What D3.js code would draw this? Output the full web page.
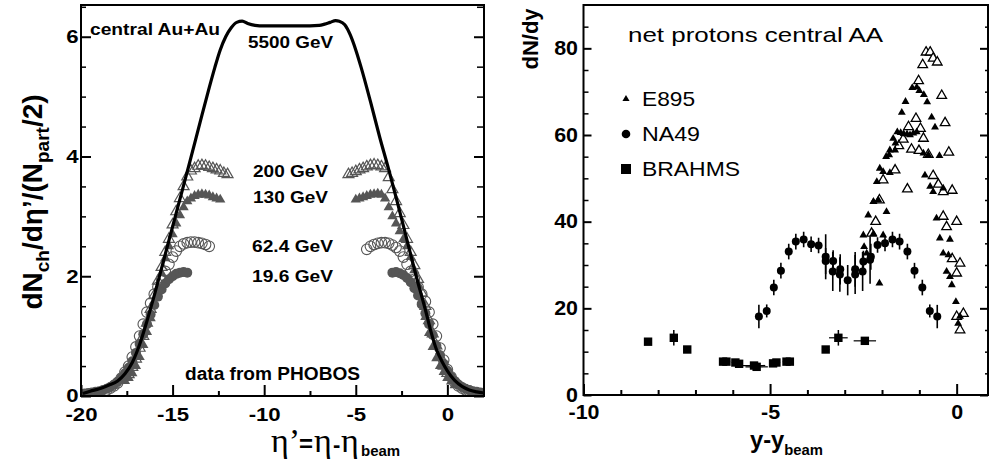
<!DOCTYPE html>
<html><head><meta charset="utf-8">
<script src="https://cdn.jsdelivr.net/npm/d3@7/dist/d3.min.js"></script>
<style>
html,body{margin:0;padding:0;background:#fff}
svg{display:block}
text{font-family:"Liberation Sans",Arial,Helvetica,sans-serif}
</style></head>
<body>
<svg id="chart" width="989" height="466"></svg>
<script>
// ================= LEFT PANEL DATA =================
// 5500 GeV extrapolation (solid curve)
const lhcEta = [-19.9,-19.5,-19.0,-18.5,-18.0,-17.6,-17.2,-16.8,-16.4,-16.0,-15.5,-15.0,-14.5,-14.0,-13.5,-13.0,-12.7,-12.4,-12.1,-11.8,-11.5,-11.2,-10.9,-10.5,-10.0,-9.0,-8.0,-7.0,-6.7,-6.4,-6.1,-5.9,-5.6,-5.3,-5.0,-4.7,-4.2,-3.7,-3.2,-2.7,-2.2,-1.7,-1.2,-0.9,-0.6,-0.3,0.0,0.4,0.8,1.2,1.6,2.0];
const lhcVal = [0.04,0.08,0.12,0.18,0.25,0.37,0.56,0.86,1.25,1.68,2.25,2.83,3.4,3.98,4.57,5.15,5.48,5.78,6.0,6.15,6.24,6.26,6.22,6.19,6.18,6.18,6.18,6.19,6.21,6.24,6.27,6.26,6.2,6.03,5.78,5.48,4.92,4.33,3.78,3.2,2.6,2.0,1.44,1.08,0.78,0.58,0.42,0.26,0.16,0.1,0.07,0.05];

// 200 GeV (open triangles)
const eta200 = [-17.4,-17.2,-17.0,-16.8,-16.6,-16.4,-16.2,-16.0,-15.8,-15.6,-15.4,-15.2,-15.0,-14.8,-14.6,-14.4,-14.2,-14.0,-13.8,-13.6,-13.4,-13.2,-13.0,-12.8,-12.6,-12.4,-12.2,-12.0,
  -5.4,-5.2,-5.0,-4.8,-4.6,-4.4,-4.2,-4.0,-3.8,-3.6,-3.4,-3.2,-3.0,-2.8,-2.6,-2.4,-2.2,-2.0,-1.8,-1.6,-1.4,-1.2,-1.0,-0.8,-0.6,-0.4,-0.2,0.0];
const val200 = [0.36,0.48,0.62,0.8,1.0,1.22,1.45,1.68,1.92,2.15,2.4,2.62,2.86,3.08,3.3,3.5,3.66,3.76,3.8,3.84,3.85,3.84,3.82,3.8,3.78,3.76,3.72,3.7,
  3.70,3.72,3.75,3.78,3.80,3.83,3.85,3.86,3.85,3.83,3.8,3.65,3.45,3.25,3.05,2.85,2.62,2.4,2.18,1.95,1.72,1.5,1.26,1.04,0.84,0.66,0.5,0.38];

// 130 GeV (filled triangles)
const eta130 = [-17.6,-17.4,-17.2,-17.0,-16.8,-16.6,-16.4,-16.2,-16.0,-15.8,-15.6,-15.4,-15.2,-15.0,-14.8,-14.6,-14.4,-14.2,-14.0,-13.8,-13.6,-13.4,-13.2,-13.0,-12.8,-12.6,-12.4,
  -5.0,-4.8,-4.6,-4.4,-4.2,-4.0,-3.8,-3.6,-3.4,-3.2,-3.0,-2.8,-2.6,-2.4,-2.2,-2.0,-1.8,-1.6,-1.4,-1.2,-1.0,-0.8,-0.6,-0.4,-0.2,0.0,0.2,0.4];
const val130 = [0.25,0.3,0.38,0.5,0.65,0.85,1.07,1.3,1.55,1.8,2.05,2.3,2.5,2.7,2.88,3.02,3.15,3.25,3.3,3.34,3.36,3.37,3.36,3.35,3.32,3.3,3.28,
  3.28,3.3,3.32,3.34,3.36,3.37,3.38,3.36,3.3,3.15,3.0,2.88,2.75,2.62,2.5,2.32,2.1,1.86,1.6,1.32,1.05,0.82,0.63,0.5,0.4,0.3,0.24,0.18];

// 62.4 GeV (open circles)
const eta62 = [-18.6,-18.4,-18.2,-18.0,-17.8,-17.6,-17.4,-17.2,-17.0,-16.8,-16.6,-16.4,-16.2,-16.0,-15.8,-15.6,-15.4,-15.2,-15.0,-14.8,-14.6,-14.4,-14.2,-14.0,-13.8,-13.6,-13.4,-13.2,-13.0,
  -4.4,-4.2,-4.0,-3.8,-3.6,-3.4,-3.2,-3.0,-2.8,-2.6,-2.4,-2.2,-2.0,-1.8,-1.6,-1.4,-1.2,-1.0,-0.8,-0.6,-0.4,-0.2,0.0,0.2,0.4,0.6,0.8,1.0,1.2];
const val62 = [0.1,0.13,0.17,0.22,0.3,0.4,0.5,0.65,0.82,1.0,1.2,1.4,1.55,1.7,1.82,1.95,2.08,2.2,2.32,2.42,2.5,2.54,2.56,2.57,2.57,2.56,2.55,2.53,2.5,
  2.45,2.5,2.53,2.55,2.56,2.56,2.55,2.52,2.48,2.42,2.32,2.2,2.08,1.95,1.82,1.7,1.58,1.4,1.2,1.0,0.8,0.6,0.44,0.32,0.23,0.17,0.13,0.1,0.08];

// 19.6 GeV (filled circles)
const eta19 = [-19.8,-19.6,-19.4,-19.2,-19.0,-18.8,-18.6,-18.4,-18.2,-18.0,-17.8,-17.6,-17.4,-17.2,-17.0,-16.8,-16.6,-16.4,-16.2,-16.0,-15.8,-15.6,-15.4,-15.2,-15.0,-14.8,-14.6,-14.4,-14.2,
  -3.0,-2.8,-2.6,-2.4,-2.2,-2.0,-1.8,-1.6,-1.4,-1.2,-1.0,-0.8,-0.6,-0.4,-0.2,0.0,0.2,0.4,0.6,0.8,1.0,1.2,1.4,1.6,1.8,2.0];
const val19 = [0.04,0.05,0.06,0.07,0.08,0.1,0.12,0.15,0.19,0.24,0.3,0.38,0.47,0.58,0.72,0.87,1.03,1.2,1.36,1.52,1.66,1.78,1.88,1.95,2.0,2.04,2.06,2.07,2.06,
  2.06,2.07,2.05,2.02,1.97,1.9,1.8,1.68,1.53,1.38,1.2,1.02,0.84,0.68,0.54,0.42,0.32,0.25,0.19,0.15,0.12,0.1,0.08,0.07,0.06,0.05];

const xTicksL = [-20,-15,-10,-5,0];
const xMinorL = [-17.5,-12.5,-7.5,-2.5];
const yTicksL = [0,2,4,6];
const yMinorL = [0.5,1,1.5,2.5,3,3.5,4.5,5,5.5,6.5];

// ================= RIGHT PANEL DATA =================
const e895FilledX = [-2.07,-2.37,-2.23,-2.50,-2.48,-2.41,-2.23,-1.97,-2.10,-2.23,-1.88,-2.14,-2.06,-1.97,-1.79,-1.89,-1.81,-1.79,-1.65,-1.70,-1.64,-1.59,-1.50,-1.42,-1.33,-1.25,-1.16,-1.07,-1.47,-1.37,-1.19,-1.07,-1.00,-0.88,-0.79,-0.67,-0.58,-0.89,-0.76,-0.46,-0.85,-0.71,-0.63,-0.36,-0.54,-0.45,-0.18,-0.36,-0.22,-0.27,-0.18,-0.13,-0.02,0.04,0.09];
const e895FilledY = [25.8,41.5,44.6,36.9,34.2,32.7,37.2,36.9,45.0,44.6,42.3,49.2,52.3,51.5,51.3,55.0,55.4,56.5,56.5,59.2,58.1,60.7,60.5,60.3,60.2,60.0,60.4,60.7,65.2,67.7,70.9,71.0,70.2,69.3,67.6,64.1,61.8,55.8,55.4,55.2,50.7,48.1,46.9,47.7,40.8,36.2,35.9,32.7,32.3,28.5,27.3,25.4,21.5,16.5,18.1];
const e895OpenX = [-0.82,-0.71,-0.91,-0.63,-0.52,-1.02,-0.40,-0.31,-1.09,-1.29,-0.97,-1.21,-0.89,-1.01,-0.76,-0.21,-1.32,-0.12,-0.63,-0.49,-0.36,-1.65,-1.97,-2.07,-2.17,-2.28,-0.36,-0.27,0.0,-0.12,0.0,0.09,0.0,0.18,0.09,-1.55,-1.43];
const e895OpenY = [79.1,79.1,76.2,77.7,76.8,72.5,69.1,62.8,63.8,61.9,61.5,56.7,59.2,56.4,55.5,56.0,47.5,47.2,50.6,48.6,46.9,51.9,49.6,45.0,40.0,37.3,41.2,38.8,40.0,31.4,28.1,30.4,18.1,18.8,15.0,57.5,59.0];

const na49X = [-5.30,-5.09,-4.90,-4.71,-4.50,-4.31,-4.10,-3.90,-3.70,-3.51,-3.51,-3.31,-3.32,-3.12,-3.13,-2.92,-2.72,-2.72,-2.52,-2.50,-2.32,-2.30,-2.12,-1.92,-1.72,-1.53,-1.32,-1.13,-0.92,-0.72,-0.52];
const na49Y = [18.1,19.4,24.8,28.7,33.1,35.4,35.9,34.8,34.5,31.9,30.9,30.9,28.5,29.0,27.8,26.5,29.0,27.8,28.5,30.8,31.2,31.9,34.6,35.0,35.9,35.4,33.1,28.7,24.8,19.4,18.1];
const na49Err = [2.7,1.5,1.8,1.8,1.8,1.8,1.8,1.8,1.8,5.2,3.0,2.5,4.5,3.5,4.0,3.5,4.0,4.5,4.5,2.5,5.5,3.0,1.8,1.8,1.8,1.8,1.8,1.8,1.8,1.5,2.7];

const brahmsX = [-8.27,-7.58,-7.22,-6.26,-6.17,-5.93,-5.83,-5.43,-5.36,-4.92,-4.83,-4.56,-4.47,-3.51,-3.17,-2.46];
const brahmsY = [12.3,13.2,10.5,7.7,7.7,7.5,7.2,6.8,6.5,7.3,7.5,7.7,7.7,10.5,13.2,12.5];
const brahmsErrY = [0.5,1.8,0.5,0.5,0.5,0.5,0.5,0.5,0.5,0.5,0.5,0.5,0.5,0.5,1.8,0.5];
const brahmsErrX = [0.1,0.1,0.1,0.1,0.1,0.1,0.1,0.3,0.3,0.1,0.1,0.1,0.1,0.1,0.25,0.3];

const xTicksR = [-10,-5,0];
const xMinorR = [-9,-8,-7,-6,-4,-3,-2,-1];
const yTicksR = [0,20,40,60,80];
const yMinorR = [5,10,15,25,30,35,45,50,55,65,70,75,85];

const legendItems = ["E895","NA49","BRAHMS"];

// ================= DRAWING =================
const svg = d3.select("#chart");
const grey = "#565656";
const FONT = '"Liberation Sans",Arial,Helvetica,sans-serif';

function drawAxes(x, y, P, o){
  const g = svg.append("g");
  const styleTicks = (a, w) => { a.select(".domain").remove(); a.selectAll("line").attr("stroke","#000").attr("stroke-width",w); };
  g.append("g").attr("transform",`translate(0,${P.b})`)
    .call(d3.axisBottom(x).tickValues(o.xMaj).tickSize(-o.xMajLen).tickPadding(o.xPad).tickFormat(d=>String(d)))
    .call(a=>styleTicks(a,2))
    .call(a=>a.selectAll("text").attr("font-size",o.fs).attr("font-weight","bold").attr("font-family",FONT).attr("fill","#000")
      .attr("transform",`scale(${o.sx},1)`));
  g.append("g").attr("transform",`translate(0,${P.b})`)
    .call(d3.axisBottom(x).tickValues(o.xMin).tickSize(-o.xMinLen).tickFormat(""))
    .call(a=>styleTicks(a,2));
  g.append("g").attr("transform",`translate(${P.l},0)`)
    .call(d3.axisLeft(y).tickValues(o.yMaj).tickSize(-o.yMajLen).tickPadding(o.yPad).tickFormat(d=>String(d)))
    .call(a=>styleTicks(a,2))
    .call(a=>a.selectAll("text").attr("font-size",o.fs).attr("font-weight","bold").attr("font-family",FONT).attr("fill","#000")
      .attr("transform",`scale(${o.sx},1)`));
  g.append("g").attr("transform",`translate(${P.l},0)`)
    .call(d3.axisLeft(y).tickValues(o.yMin).tickSize(-o.yMinLen).tickFormat(""))
    .call(a=>styleTicks(a,1.5));
  g.append("g").attr("transform",`translate(${P.r},0)`)
    .call(d3.axisRight(y).tickValues(o.yMaj).tickSize(-o.yMajLen).tickFormat(""))
    .call(a=>styleTicks(a,2));
  g.append("g").attr("transform",`translate(${P.r},0)`)
    .call(d3.axisRight(y).tickValues(o.yMin).tickSize(-o.yMinLenR).tickFormat(""))
    .call(a=>styleTicks(a,1.5));
  g.append("rect").attr("x",P.l).attr("y",P.t).attr("width",P.r-P.l).attr("height",P.b-P.t)
    .attr("fill","none").attr("stroke","#000").attr("stroke-width",2);
}

function addText(x, y, str, o){
  const t = svg.append("text").attr("x",x).attr("y",y).text(str)
    .attr("font-size",o.fs).attr("font-weight",o.bold?"bold":"normal").attr("fill","#000");
  if (o.len) t.attr("textLength",o.len).attr("lengthAdjust","spacingAndGlyphs");
  return t;
}

// ---------- LEFT PANEL ----------
const PL = {l:81, r:484, t:5, b:396};
const xL = d3.scaleLinear().domain([-20,2]).range([PL.l,PL.r]);
const yL = d3.scaleLinear().domain([0,6.53]).range([PL.b,PL.t]);

svg.append("defs").append("clipPath").attr("id","clipL").append("rect")
  .attr("x",PL.l).attr("y",PL.t).attr("width",PL.r-PL.l).attr("height",PL.b-PL.t);
const dL = svg.append("g").attr("clip-path","url(#clipL)");

const tOpen = d3.symbol(d3.symbolTriangle, 52);
const tFill = d3.symbol(d3.symbolTriangle, 46);

dL.append("g").selectAll("path").data(d3.zip(eta200,val200)).join("path")
  .attr("d",tOpen).attr("transform",d=>`translate(${xL(d[0])},${yL(d[1])})`)
  .attr("fill","none").attr("stroke",grey).attr("stroke-width",1.2);
dL.append("g").selectAll("path").data(d3.zip(eta130,val130)).join("path")
  .attr("d",tFill).attr("transform",d=>`translate(${xL(d[0])},${yL(d[1])})`)
  .attr("fill",grey);
dL.append("g").selectAll("circle").data(d3.zip(eta62,val62)).join("circle")
  .attr("cx",d=>xL(d[0])).attr("cy",d=>yL(d[1])).attr("r",5.3)
  .attr("fill","none").attr("stroke",grey).attr("stroke-width",1.1);
dL.append("g").selectAll("circle").data(d3.zip(eta19,val19)).join("circle")
  .attr("cx",d=>xL(d[0])).attr("cy",d=>yL(d[1])).attr("r",5)
  .attr("fill",grey);

dL.append("path").datum(d3.zip(lhcEta,lhcVal))
  .attr("d",d3.line().x(d=>xL(d[0])).y(d=>yL(d[1])).curve(d3.curveMonotoneX))
  .attr("fill","none").attr("stroke","#000").attr("stroke-width",3.2).attr("stroke-linejoin","round");

drawAxes(xL, yL, PL, {xMaj:xTicksL, xMin:xMinorL, yMaj:yTicksL, yMin:yMinorL,
  xMajLen:11, xMinLen:5, yMajLen:10, yMinLen:5, yMinLenR:7, xPad:12, yPad:2, fs:18.5, sx:1.2});

// annotations
addText(90,35,"central Au+Au",{fs:16,bold:true,len:130});
addText(248,48,"5500 GeV",{fs:17,bold:true,len:85});
addText(253,177,"200 GeV",{fs:17,bold:true,len:75});
addText(253,203,"130 GeV",{fs:17,bold:true,len:75});
addText(252,252,"62.4 GeV",{fs:17,bold:true,len:81});
addText(252,282,"19.6 GeV",{fs:17,bold:true,len:81});
addText(185,380,"data from PHOBOS",{fs:18,bold:true,len:175});

// y title (left)
{
  const t = svg.append("text").attr("transform","translate(42,202) rotate(-90)")
    .attr("text-anchor","middle").attr("font-weight","bold").attr("font-size",28).attr("fill","#000");
  t.append("tspan").text("dN");
  t.append("tspan").attr("font-size",19).attr("dy",7).text("ch");
  t.append("tspan").attr("dy",-7).text("/dη’/(N");
  t.append("tspan").attr("font-size",19).attr("dy",7).text("part");
  t.append("tspan").attr("dy",-7).text("/2)");
}
// x title (left): η'= η - η_beam
{
  const serif = '"Liberation Serif","DejaVu Serif",serif';
  const t = svg.append("text").attr("y",452).attr("fill","#000");
  t.append("tspan").attr("x",271).attr("font-family",serif).attr("font-size",34).text("η’");
  t.append("tspan").attr("x",299).attr("font-weight","bold").attr("font-size",24).text("=");
  t.append("tspan").attr("x",314).attr("font-family",serif).attr("font-size",34).text("η");
  t.append("tspan").attr("x",333).attr("font-weight","bold").attr("font-size",22).text("-");
  t.append("tspan").attr("x",341).attr("font-family",serif).attr("font-size",34).text("η");
  t.append("tspan").attr("x",361).attr("font-weight","bold").attr("font-size",15).attr("dy",4).text("beam");
}

// ---------- RIGHT PANEL ----------
const PR = {l:583.5, r:988, t:5, b:395};
const xR = d3.scaleLinear().domain([-10,0.84]).range([PR.l,PR.r]);
const yR = d3.scaleLinear().domain([0,90]).range([PR.b,PR.t]);

svg.append("defs").append("clipPath").attr("id","clipR").append("rect")
  .attr("x",PR.l).attr("y",PR.t).attr("width",PR.r-PR.l).attr("height",PR.b-PR.t);
const dR = svg.append("g").attr("clip-path","url(#clipR)");

// BRAHMS
const br = d3.range(brahmsX.length).map(i=>({x:brahmsX[i],y:brahmsY[i],ey:brahmsErrY[i],ex:brahmsErrX[i]}));
dR.append("g").selectAll("line").data(br).join("line")
  .attr("x1",d=>xR(d.x)).attr("x2",d=>xR(d.x)).attr("y1",d=>yR(d.y-d.ey)).attr("y2",d=>yR(d.y+d.ey))
  .attr("stroke","#000").attr("stroke-width",1.5);
dR.append("g").selectAll("line").data(br).join("line")
  .attr("x1",d=>xR(d.x-d.ex)).attr("x2",d=>xR(d.x+d.ex)).attr("y1",d=>yR(d.y)).attr("y2",d=>yR(d.y))
  .attr("stroke","#000").attr("stroke-width",1.2);
dR.append("g").selectAll("rect").data(br).join("rect")
  .attr("x",d=>xR(d.x)-4.2).attr("y",d=>yR(d.y)-4.2).attr("width",8.4).attr("height",8.4).attr("fill","#000");

// NA49
const na = d3.range(na49X.length).map(i=>({x:na49X[i],y:na49Y[i],e:na49Err[i]}));
dR.append("g").selectAll("line").data(na).join("line")
  .attr("x1",d=>xR(d.x)).attr("x2",d=>xR(d.x)).attr("y1",d=>yR(d.y-d.e)).attr("y2",d=>yR(d.y+d.e))
  .attr("stroke","#000").attr("stroke-width",1.6);
dR.append("g").selectAll("circle").data(na).join("circle")
  .attr("cx",d=>xR(d.x)).attr("cy",d=>yR(d.y)).attr("r",4).attr("fill","#000");

// E895
const eSymF = d3.symbol(d3.symbolTriangle, 27);
const eSymO = d3.symbol(d3.symbolTriangle, 40);
dR.append("g").selectAll("path").data(d3.zip(e895OpenX,e895OpenY)).join("path")
  .attr("d",eSymO).attr("transform",d=>`translate(${xR(d[0])},${yR(d[1])})`)
  .attr("fill","#fff").attr("stroke","#000").attr("stroke-width",1.3);
dR.append("g").selectAll("path").data(d3.zip(e895FilledX,e895FilledY)).join("path")
  .attr("d",eSymF).attr("transform",d=>`translate(${xR(d[0])},${yR(d[1])})`)
  .attr("fill","#000");

drawAxes(xR, yR, PR, {xMaj:xTicksR, xMin:xMinorR, yMaj:yTicksR, yMin:yMinorR,
  xMajLen:11, xMinLen:5, yMajLen:8, yMinLen:5, yMinLenR:3, xPad:10, yPad:5, fs:19.5, sx:1.1});

addText(628,42,"net protons central AA",{fs:21,bold:false,len:255});

// legend
const legY = [99,134,169];
svg.append("path").attr("d",d3.symbol(d3.symbolTriangle,22)()).attr("transform",`translate(626,${legY[0]})`).attr("fill","#000");
svg.append("circle").attr("cx",626).attr("cy",legY[1]).attr("r",4.3).attr("fill","#000");
svg.append("rect").attr("x",621).attr("y",legY[2]-5).attr("width",10).attr("height",10).attr("fill","#000");
const legLen = [53,58,98];
legendItems.forEach((s,i)=>addText(642,legY[i]+7,s,{fs:21,bold:false,len:legLen[i]}));

// y title right
svg.append("text").attr("transform","translate(538,39) rotate(-90)").attr("text-anchor","middle")
  .attr("font-weight","bold").attr("font-size",22).attr("fill","#000").text("dN/dy");
// x title right
{
  const t = svg.append("text").attr("x",750).attr("y",448).attr("fill","#000").attr("font-weight","bold")
    .attr("textLength",73).attr("lengthAdjust","spacingAndGlyphs");
  t.append("tspan").attr("font-size",24).text("y-y");
  t.append("tspan").attr("font-size",15).attr("dy",7).text("beam");
}
</script>
</body></html>
